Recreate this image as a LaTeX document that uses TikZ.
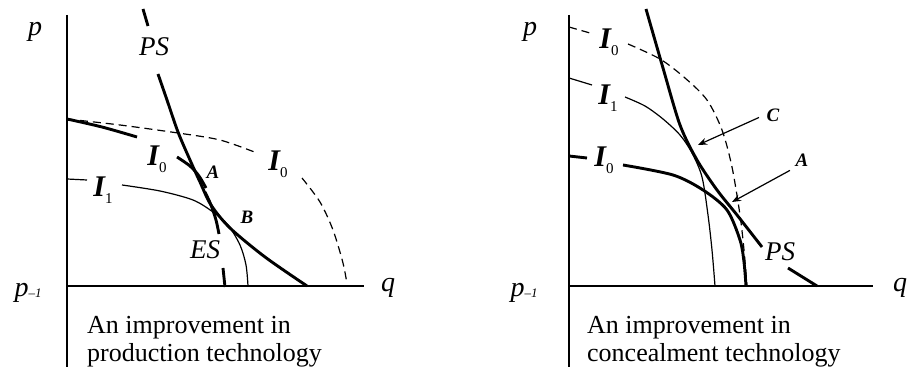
\documentclass[tikz,border=0pt]{standalone}
\usepackage{fontspec}
\setmainfont{Liberation Serif}
\usepackage{tikz}
\usetikzlibrary{arrows.meta}
\tikzset{
  axis/.style={line width=1.7pt},
  curvethick/.style={line width=2.9pt},
  curvethin/.style={line width=1.2pt},
  curvedash/.style={line width=1.2pt, dash pattern=on 8pt off 5pt},
  pointer/.style={-{Stealth[length=9pt, width=7pt]}, line width=1.2pt},
  axislabel/.style={font=\fontsize{28}{28}\selectfont\itshape, inner sep=1pt},
  curvelabel/.style={font=\fontsize{27}{27}\selectfont\itshape, inner sep=1pt},
  pointlabel/.style={font=\fontsize{19}{19}\selectfont\bfseries\itshape, inner sep=2pt},
  isolabel/.style={inner sep=1pt},
  caption/.style={font=\fontsize{26}{28}\selectfont, align=left, anchor=north west, inner sep=0pt}
}
\newcommand{\isoI}[1]{{\fontsize{30}{30}\selectfont\bfseries\itshape I}\raisebox{-7pt}{\fontsize{15}{15}\selectfont #1}}
\newcommand{\plow}{\textit{p}\raisebox{-1pt}{\fontsize{13}{13}\selectfont\textit{–1}}}

\begin{document}
\begin{tikzpicture}[x=1pt, y=-1pt]
        \useasboundingbox (0,0) rectangle (911,374);
        % production technology
        \draw[axis] (67,15) -- (67,367);
        \draw[axis] (67,286) -- (364,286);
        \draw[curvethick] (143,9) -- (148,26);
        \draw[curvethick] plot[smooth] coordinates {(158,74) (167,100) (178,132) (190,160) (200,182) (211,205) (230,228) (265,257) (307,286)};
        \draw[curvethick] plot[smooth] coordinates {(205,192) (211,205) (216,220) (219,234)};
        \draw[curvethick] (223,268) -- (225,287);
        \draw[curvethick] plot[smooth] coordinates {(67,119) (102,127) (137,137)};
        \draw[curvethick] plot[smooth] coordinates {(177,157) (190,166) (199,176) (206,188)};
        \draw[curvedash] plot[smooth] coordinates {(67,119) (120,125) (178,133) (220,140) (257,153)};
        \draw[curvedash] plot[smooth] coordinates {(302,178) (320,202) (333,230) (343,263) (347,284)};
        \draw[curvethin] (67,179) -- (87,180);
        \draw[curvethin] plot[smooth] coordinates {(122,185) (160,191) (193,200) (213,212) (228,225) (240,245) (246,265) (248,286)};
        \node[axislabel] (pL) at (35,32) {p};
        \node[axislabel] (qL) at (388,288) {q};
        \node[axislabel] (plL) at (28,293) {\plow};
        \node[curvelabel] (psL) at (154,47) {PS};
        \node[curvelabel] (esL) at (205,250) {ES};
        \node[pointlabel] (aL) at (213,172) {A};
        \node[pointlabel] (bL) at (247,217) {B};
        \node[isolabel] (ioL) at (157,159) {\isoI{0}};
        \node[isolabel] (i1L) at (103,190) {\isoI{1}};
        \node[isolabel] (idL) at (278,164) {\isoI{0}};
        \node[caption] (capL) at (87,316) {An improvement in\\production technology};
        % concealment technology
        \draw[axis] (569,15) -- (569,367);
        \draw[axis] (569,286) -- (873,286);
        \draw[curvethick] plot[smooth] coordinates {(646,9) (663,68) (680,125) (697,160) (717,190) (737,215) (762,247)};
        \draw[curvethick] (788,268) -- (817,286);
        \draw[curvethick] (569,156) -- (587,158);
        \draw[curvethick] plot[smooth] coordinates {(623,165) (673,175) (703,190) (727,210) (740,240) (744,262) (746,286)};
        \draw[curvethin] (569,78) -- (592,85);
        \draw[curvethin] plot[smooth] coordinates {(625,97) (645,106) (663,119) (680,135) (692,153) (702,177) (708,215) (712,250) (715,286)};
        \draw[curvedash] (569,27) -- (590,33);
        \draw[curvedash] plot[smooth] coordinates {(628,44) (660,59) (685,78) (707,100) (722,130) (732,167) (740,215) (744,250) (747,286)};
        \node[axislabel] (pR) at (530,32) {p};
        \node[axislabel] (qR) at (900,288) {q};
        \node[axislabel] (plR) at (524,293) {\plow};
        \node[curvelabel] (psR) at (780,252) {PS};
        \node[pointlabel] (cR) at (773,115) {C};
        \node[pointlabel] (aR) at (802,160) {A};
        \node[isolabel] (idR) at (609,42) {\isoI{0}};
        \node[isolabel] (i1R) at (608,98) {\isoI{1}};
        \node[isolabel] (ioR) at (604,160) {\isoI{0}};
        \coordinate (ptC) at (698,145);
        \coordinate (ptA) at (732,202);
        \draw[pointer, shorten <=6pt] (cR.west) -- (ptC);
        \draw[pointer, shorten <=4pt] (aR.south west) -- (ptA);
        \node[caption] (capR) at (587,316) {An improvement in\\concealment technology};
    \end{tikzpicture}
\end{document}
